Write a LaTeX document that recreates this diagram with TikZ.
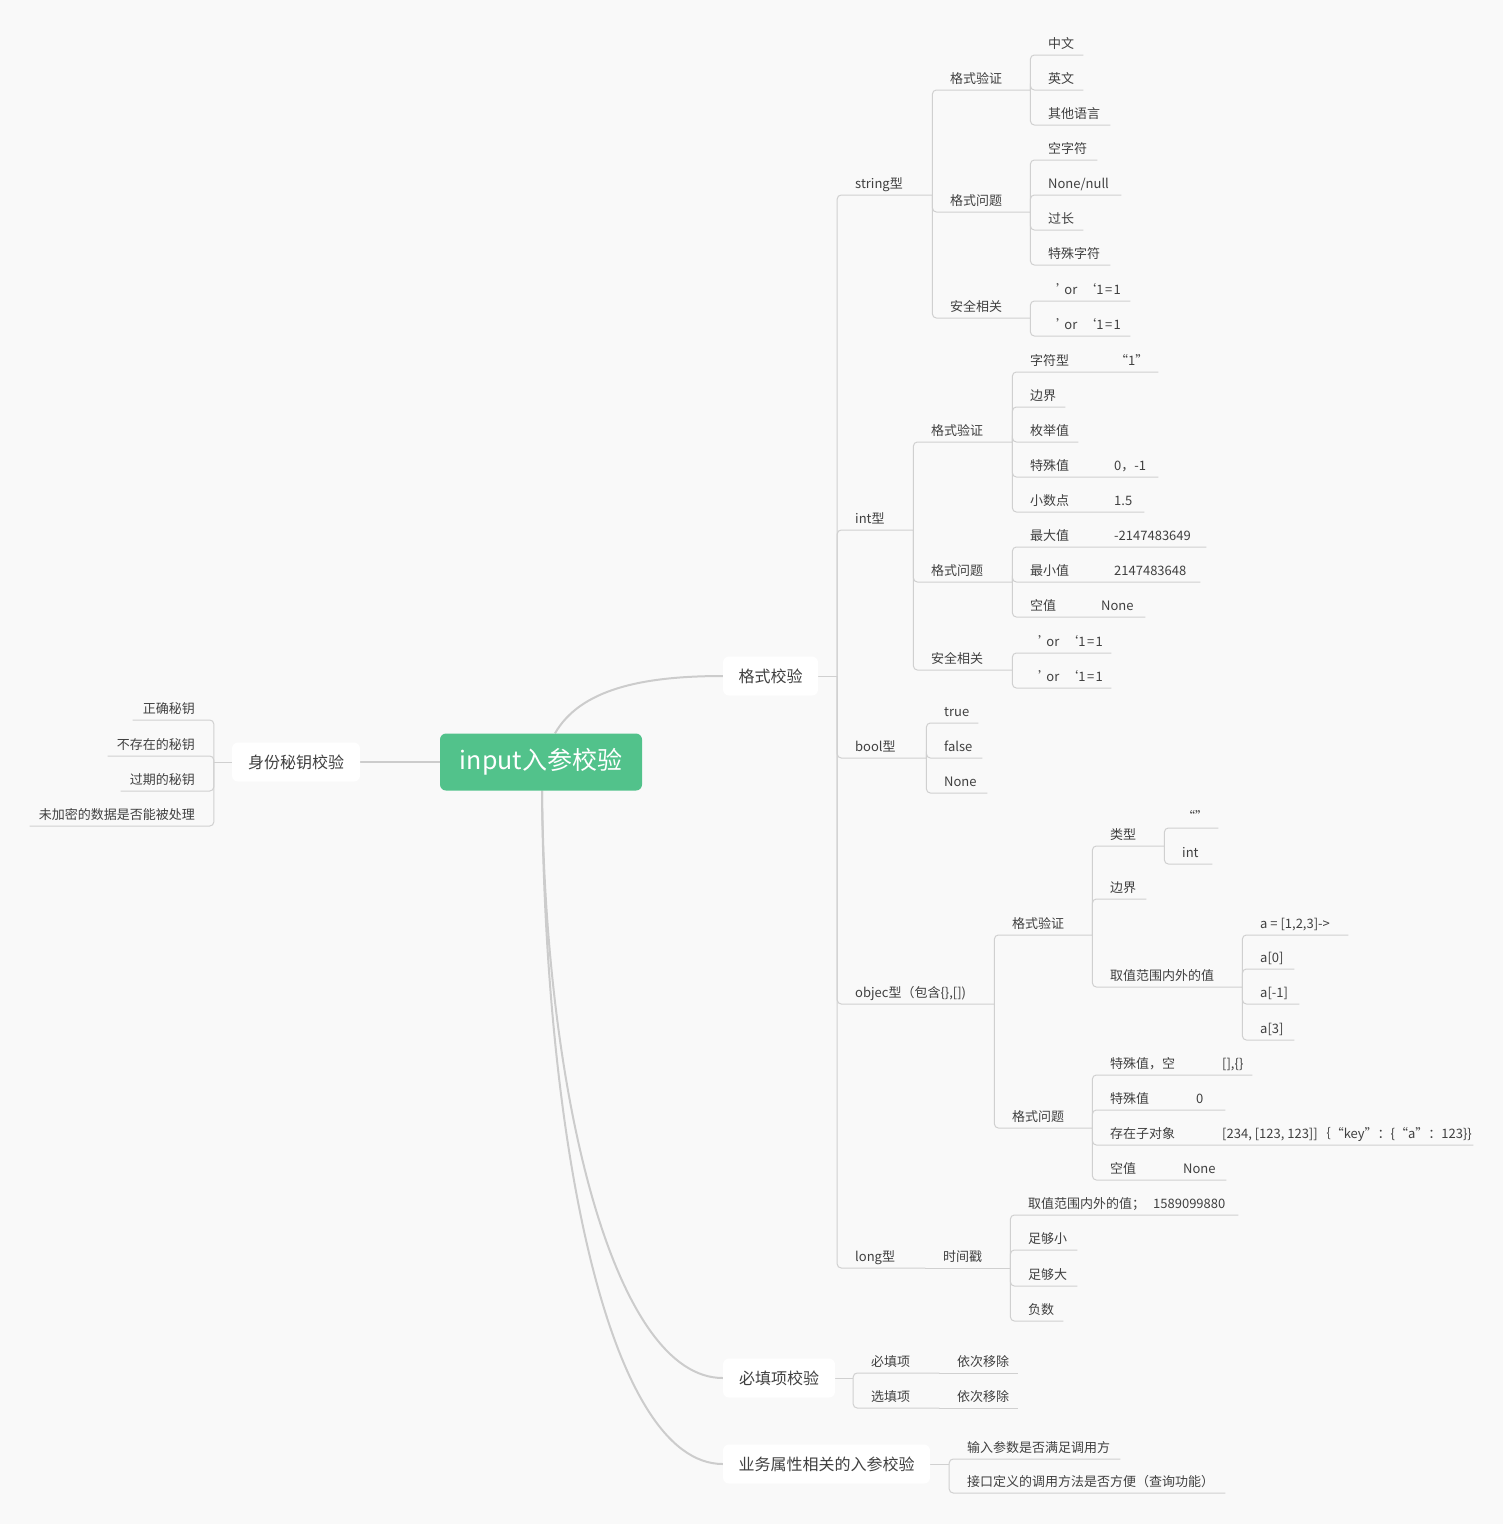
\documentclass[tikz,border=0pt]{standalone}
\usepackage{fontspec}
\setmainfont{Noto Sans CJK SC}
\definecolor{bgc}{RGB}{249,249,249}
\definecolor{lnc}{RGB}{208,208,208}
\definecolor{crv}{RGB}{204,204,204}
\definecolor{txc}{RGB}{64,64,64}
\definecolor{rootg}{RGB}{82,194,139}
\newcommand{\tpx}[2]{\makebox[#1pt][l]{\hspace{18pt}#2}}
\newcommand{\tpr}[2]{\makebox[#1pt][r]{#2\hspace{19pt}}}
\newcommand{\kvx}[2]{\makebox[#1pt][l]{#2}}
\newcommand{\sqlx}{\hspace{8pt}\makebox[6pt][l]{’}\,or\hspace{13pt}\makebox[6pt][r]{‘}1\hspace{1.5pt}=\hspace{1.5pt}1}
\pgfdeclarelayer{back}
\pgfdeclarelayer{lines}
\pgfsetlayers{back,lines,main}
\tikzset{
  tp/.style={anchor=south west, inner sep=0pt, text depth=6.5pt, text height=10pt,
    font=\fontsize{13pt}{15pt}\selectfont, text=txc},
  tpl/.style={tp, anchor=south east},
  lk/.style={draw=lnc, line width=1pt, rounded corners=4pt},
  cv/.style={draw=crv, line width=2pt},
  bx/.style={fill=white, rounded corners=6pt, minimum height=39pt, inner sep=0pt,
    font=\fontsize{16pt}{18pt}\selectfont, text=txc},
  rootbox/.style={fill=rootg, rounded corners=6pt, minimum width=202pt, minimum height=57pt,
    inner sep=0pt, text=white, font=\fontsize{25pt}{28pt}\selectfont}
}
\begin{document}
\begin{tikzpicture}[x=1pt,y=-1pt]
\begin{pgfonlayer}{back}
\fill[bgc] (0,0) rectangle (1503,1524);
\end{pgfonlayer}
\useasboundingbox (0,0) rectangle (1503,1524);

% root and level-1 boxes
\node[rootbox] (root) at (541,762) {input入参校验};
\node[bx, minimum width=95pt] (fmt) at (770.5,676) {格式校验};
\node[bx, minimum width=112pt] (req) at (779,1378) {必填项校验};
\node[bx, minimum width=207pt] (biz) at (826.5,1464) {业务属性相关的入参校验};
\node[bx, minimum width=128pt] (idk) at (296,762) {身份秘钥校验};

% level 2 (格式校验)
\node[tp] (str) at (837,195) {\tpx{95}{string型}};
\node[tp] (int) at (837,530) {\tpx{76}{int型}};
\node[tp] (bool) at (837,758) {\tpx{89}{bool型}};
\node[tp] (obj) at (837,1004) {\tpx{157}{objec型（包含\{\},[])}};
\node[tp] (long) at (837,1268) {\tpx{88}{long型}};
\node[tp] (ts) at (925,1268) {\tpx{85}{时间戳}};

% string
\node[tp] (s1) at (932,90) {\tpx{98}{格式验证}};
\node[tp] (s2) at (932,212) {\tpx{98}{格式问题}};
\node[tp] (s3) at (932,318) {\tpx{98}{安全相关}};
\node[tp] (s1a) at (1030,55) {\tpx{53}{中文}};
\node[tp] (s1b) at (1030,90) {\tpx{53}{英文}};
\node[tp] (s1c) at (1030,125) {\tpx{80}{其他语言}};
\node[tp] (s2a) at (1030,160) {\tpx{67}{空字符}};
\node[tp] (s2b) at (1030,195) {\tpx{91}{None/null}};
\node[tp] (s2c) at (1030,230) {\tpx{53}{过长}};
\node[tp] (s2d) at (1030,265) {\tpx{80}{特殊字符}};
\node[tp] (s3a) at (1030,301) {\tpx{100}{\sqlx}};
\node[tp] (s3b) at (1030,336) {\tpx{100}{\sqlx}};

% int
\node[tp] (i1) at (913,442) {\tpx{99}{格式验证}};
\node[tp] (i2) at (913,582) {\tpx{99}{格式问题}};
\node[tp] (i3) at (913,670) {\tpx{99}{安全相关}};
\node[tp] (i1a) at (1012,372) {\tpx{146}{\kvx{91}{字符型}\makebox[7pt][r]{“}1\makebox[7pt][l]{”}}};
\node[tp] (i1b) at (1012,407) {\tpx{53}{边界}};
\node[tp] (i1c) at (1012,442) {\tpx{66}{枚举值}};
\node[tp] (i1d) at (1012,477) {\tpx{146}{\kvx{84}{特殊值}0，-1}};
\node[tp] (i1e) at (1012,512) {\tpx{132}{\kvx{84}{小数点}1.5}};
\node[tp] (i2a) at (1012,547) {\tpx{194}{\kvx{84}{最大值}-2147483649}};
\node[tp] (i2b) at (1012,582) {\tpx{188}{\kvx{84}{最小值}2147483648}};
\node[tp] (i2c) at (1012,617) {\tpx{133}{\kvx{71}{空值}None}};
\node[tp] (i3a) at (1012,653) {\tpx{99}{\sqlx}};
\node[tp] (i3b) at (1012,688) {\tpx{99}{\sqlx}};

% bool
\node[tp] (b1) at (926,723) {\tpx{52}{true}};
\node[tp] (b2) at (926,758) {\tpx{56}{false}};
\node[tp] (b3) at (926,793) {\tpx{61}{None}};

% object
\node[tp] (o1) at (994,935) {\tpx{98}{格式验证}};
\node[tp] (o2) at (994,1128) {\tpx{98}{格式问题}};
\node[tp] (o1a) at (1092,846) {\tpx{72}{类型}};
\node[tp] (o1b) at (1092,899) {\tpx{54}{边界}};
\node[tp] (o1c) at (1092,987) {\tpx{150}{取值范围内外的值}};
\node[tp] (t1) at (1164,828) {\tpx{54}{“”}};
\node[tp] (t2) at (1164,864) {\tpx{48}{int}};
\node[tp] (r1) at (1242,935) {\tpx{106}{a = [1,2,3]->}};
\node[tp] (r2) at (1242,969) {\tpx{52}{a[0]}};
\node[tp] (r3) at (1242,1004) {\tpx{57}{a[-1]}};
\node[tp] (r4) at (1242,1040) {\tpx{52}{a[3]}};
\node[tp] (o2a) at (1092,1075) {\tpx{160}{\kvx{112}{特殊值，空}[],\{\}}};
\node[tp] (o2b) at (1092,1110) {\tpx{133}{\kvx{86}{特殊值}0}};
\node[tp] (o2c) at (1092,1145) {\tpx{381}{\kvx{112}{存在子对象}[234, [123, 123]]｛“key”：\{“a”：123\}\}}};
\node[tp] (o2d) at (1092,1180) {\tpx{134}{\kvx{73}{空值}None}};

% long
\node[tp] (l1) at (1010,1215) {\tpx{228}{\kvx{125}{取值范围内外的值；}1589099880}};
\node[tp] (l2) at (1010,1250) {\tpx{67}{足够小}};
\node[tp] (l3) at (1010,1286) {\tpx{67}{足够大}};
\node[tp] (l4) at (1010,1321) {\tpx{53}{负数}};

% required
\node[tp] (q1) at (853,1373) {\tpx{86}{必填项}};
\node[tp] (q1v) at (939,1373) {\tpx{79}{依次移除}};
\node[tp] (q2) at (853,1408) {\tpx{86}{选填项}};
\node[tp] (q2v) at (939,1408) {\tpx{79}{依次移除}};

% business
\node[tp] (y1) at (949,1459) {\tpx{171}{输入参数是否满足调用方}};
\node[tp] (y2) at (949,1493) {\tpx{276}{接口定义的调用方法是否方便（查询功能）}};

% identity keys (left)
\node[tpl] (k1) at (214,720) {\tpr{81}{正确秘钥}};
\node[tpl] (k2) at (214,756) {\tpr{106}{不存在的秘钥}};
\node[tpl] (k3) at (214,791) {\tpr{93}{过期的秘钥}};
\node[tpl] (k4) at (214,826) {\tpr{184}{未加密的数据是否能被处理}};

\begin{pgfonlayer}{lines}
% root curves
\draw[cv] ([xshift=14pt]root.north) .. controls (580,690) and (640,676) .. (fmt.west);
\draw[cv] ([xshift=1pt]root.south) .. controls (545,1100) and (615,1378) .. (req.west);
\draw[cv] ([xshift=1pt]root.south) .. controls (545,1150) and (610,1464) .. (biz.west);
\draw[cv] (root.west) -- (idk.east);

% 格式校验
\coordinate (fS) at ([xshift=19pt]fmt.east);
\draw[lk] (fmt.east) -- (fS);
\foreach \c in {str,int,bool,obj,long} \draw[lk] (fS) |- (\c.south east);
\draw[lk] (long.south east) -- (ts.south east);

\foreach \c in {s1,s2,s3} \draw[lk] (str.south east) |- (\c.south east);
\foreach \c in {s1a,s1b,s1c} \draw[lk] (s1.south east) |- (\c.south east);
\foreach \c in {s2a,s2b,s2c,s2d} \draw[lk] (s2.south east) |- (\c.south east);
\foreach \c in {s3a,s3b} \draw[lk] (s3.south east) |- (\c.south east);

\foreach \c in {i1,i2,i3} \draw[lk] (int.south east) |- (\c.south east);
\foreach \c in {i1a,i1b,i1c,i1d,i1e} \draw[lk] (i1.south east) |- (\c.south east);
\foreach \c in {i2a,i2b,i2c} \draw[lk] (i2.south east) |- (\c.south east);
\foreach \c in {i3a,i3b} \draw[lk] (i3.south east) |- (\c.south east);

\foreach \c in {b1,b2,b3} \draw[lk] (bool.south east) |- (\c.south east);

\foreach \c in {o1,o2} \draw[lk] (obj.south east) |- (\c.south east);
\foreach \c in {o1a,o1b,o1c} \draw[lk] (o1.south east) |- (\c.south east);
\foreach \c in {t1,t2} \draw[lk] (o1a.south east) |- (\c.south east);
\foreach \c in {r1,r2,r3,r4} \draw[lk] (o1c.south east) |- (\c.south east);
\foreach \c in {o2a,o2b,o2c,o2d} \draw[lk] (o2.south east) |- (\c.south east);

\foreach \c in {l1,l2,l3,l4} \draw[lk] (ts.south east) |- (\c.south east);

% 必填项校验
\coordinate (rS) at ([xshift=18pt]req.east);
\draw[lk] (req.east) -- (rS);
\foreach \c in {q1,q2} \draw[lk] (rS) |- (\c.south east);
\draw[lk] (q1.south east) -- (q1v.south east);
\draw[lk] (q2.south east) -- (q2v.south east);

% 业务
\coordinate (yS) at ([xshift=19pt]biz.east);
\draw[lk] (biz.east) -- (yS);
\foreach \c in {y1,y2} \draw[lk] (yS) |- (\c.south east);

% 身份秘钥
\coordinate (kS) at ([xshift=-18pt]idk.west);
\draw[lk] (idk.west) -- (kS);
\foreach \c in {k1,k2,k3,k4} \draw[lk] (kS) |- (\c.south west);
\end{pgfonlayer}
\end{tikzpicture}
\end{document}
